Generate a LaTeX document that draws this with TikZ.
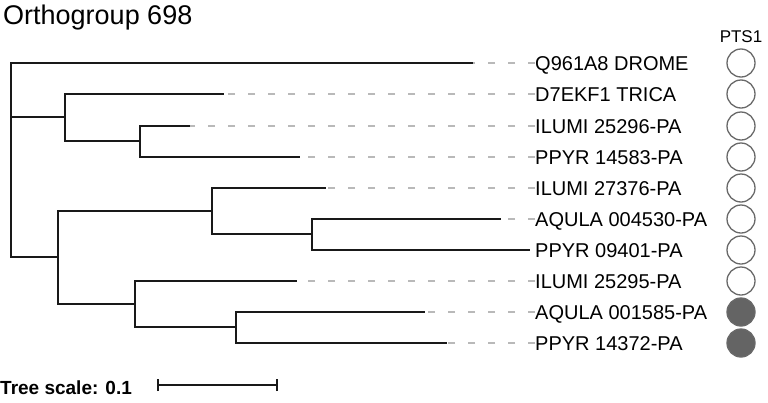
\documentclass[tikz,border=0pt]{standalone}
\usepackage{fontspec}
\setmainfont{Liberation Sans}
\definecolor{treeline}{RGB}{25,25,25}
\definecolor{dashgray}{RGB}{185,185,185}
\definecolor{ptsedge}{RGB}{105,105,105}
\definecolor{ptsfill}{RGB}{100,100,100}

\begin{document}
\begin{tikzpicture}[x=1pt, y=-1pt,
  branch/.style={treeline, line width=1.5pt},
  dashline/.style={dashgray, line width=1.1pt, dash pattern=on 7pt off 13pt},
  leafname/.style={font=\fontsize{20}{20}\selectfont, anchor=base west, inner sep=0pt},
  ptsoff/.style={circle, draw=ptsedge, line width=1.3pt, minimum size=28pt, inner sep=0pt},
  ptson/.style={ptsoff, fill=ptsfill}]
  \useasboundingbox (0,0) rectangle (768,402);

  % Title and column header
  \node[font=\fontsize{27}{27}\selectfont, anchor=base west, inner sep=0pt] (title) at (3, 24) {Orthogroup 698};
  \node[font=\fontsize{17}{17}\selectfont, anchor=base, inner sep=0pt] (ptshead) at (741, 42) {PTS1};

  % Internal nodes
  \coordinate (root) at (11, 160);
  \coordinate (nA) at (65, 117);
  \coordinate (nB) at (140, 141);
  \coordinate (nC) at (58, 257);
  \coordinate (nD) at (212, 211);
  \coordinate (nE) at (312, 234);
  \coordinate (nF) at (135, 304);
  \coordinate (nG) at (236, 327);

  % Branch tips
  \coordinate (tQ961) at (473, 63);
  \coordinate (tD7EK) at (224, 94);
  \coordinate (tIL296) at (190, 126);
  \coordinate (tPP583) at (300, 157);
  \coordinate (tIL376) at (326, 188);
  \coordinate (tAQ530) at (501, 219);
  \coordinate (tPP401) at (530, 250);
  \coordinate (tIL295) at (297, 281);
  \coordinate (tAQ585) at (425, 312);
  \coordinate (tPP372) at (447, 343);

  % Leaf labels
  \node[leafname] (lQ961) at (535, 70.5) {Q961A8 DROME};
  \node[leafname] (lD7EK) at (535, 101.5) {D7EKF1 TRICA};
  \node[leafname] (lIL296) at (535, 133.5) {ILUMI 25296-PA};
  \node[leafname] (lPP583) at (535, 164.5) {PPYR 14583-PA};
  \node[leafname] (lIL376) at (535, 195.5) {ILUMI 27376-PA};
  \node[leafname] (lAQ530) at (535, 226.5) {AQULA 004530-PA};
  \node[leafname] (lPP401) at (535, 257.5) {PPYR 09401-PA};
  \node[leafname] (lIL295) at (535, 288.5) {ILUMI 25295-PA};
  \node[leafname] (lAQ585) at (535, 319.5) {AQULA 001585-PA};
  \node[leafname] (lPP372) at (535, 350.5) {PPYR 14372-PA};

  % Dashed guides from labels back to tips
  \draw[dashline] (tQ961 -| lQ961.west) -- (tQ961);
  \draw[dashline] (tD7EK -| lD7EK.west) -- (tD7EK);
  \draw[dashline] (tIL296 -| lIL296.west) -- (tIL296);
  \draw[dashline] (tPP583 -| lPP583.west) -- (tPP583);
  \draw[dashline] (tIL376 -| lIL376.west) -- (tIL376);
  \draw[dashline] (tAQ530 -| lAQ530.west) -- (tAQ530);
  \draw[dashline] (tIL295 -| lIL295.west) -- (tIL295);
  \draw[dashline] (tAQ585 -| lAQ585.west) -- (tAQ585);
  \draw[dashline] (tPP372 -| lPP372.west) -- (tPP372);

  % Tree branches
  \draw[branch] (root) |- (tQ961);
  \draw[branch] (root) |- (nA);
  \draw[branch] (root) |- (nC);
  \draw[branch] (nA) |- (tD7EK);
  \draw[branch] (nA) |- (nB);
  \draw[branch] (nB) |- (tIL296);
  \draw[branch] (nB) |- (tPP583);
  \draw[branch] (nC) |- (nD);
  \draw[branch] (nC) |- (nF);
  \draw[branch] (nD) |- (tIL376);
  \draw[branch] (nD) |- (nE);
  \draw[branch] (nE) |- (tAQ530);
  \draw[branch] (nE) |- (tPP401);
  \draw[branch] (nF) |- (tIL295);
  \draw[branch] (nF) |- (nG);
  \draw[branch] (nG) |- (tAQ585);
  \draw[branch] (nG) |- (tPP372);

  % PTS1 column
  \node[ptsoff] (pQ961) at (741, 63) {};
  \node[ptsoff] (pD7EK) at (741, 94) {};
  \node[ptsoff] (pIL296) at (741, 126) {};
  \node[ptsoff] (pPP583) at (741, 157) {};
  \node[ptsoff] (pIL376) at (741, 188) {};
  \node[ptsoff] (pAQ530) at (741, 219) {};
  \node[ptsoff] (pPP401) at (741, 250) {};
  \node[ptsoff] (pIL295) at (741, 281) {};
  \node[ptson] (pAQ585) at (741, 312) {};
  \node[ptson] (pPP372) at (741, 343) {};

  % Tree scale
  \node[font=\fontsize{19}{19}\selectfont\bfseries, anchor=base west, inner sep=0pt] (scalelabel) at (0, 394) {Tree scale: 0.1};
  \coordinate (sbL) at (158, 385);
  \coordinate (sbR) at (277, 385);
  \draw[branch, line width=1.2pt] (sbL) -- (sbR);
  \draw[branch, line width=1.2pt] ([yshift=-6pt]sbL) -- ([yshift=6pt]sbL);
  \draw[branch, line width=1.2pt] ([yshift=-6pt]sbR) -- ([yshift=6pt]sbR);
\end{tikzpicture}
\end{document}
